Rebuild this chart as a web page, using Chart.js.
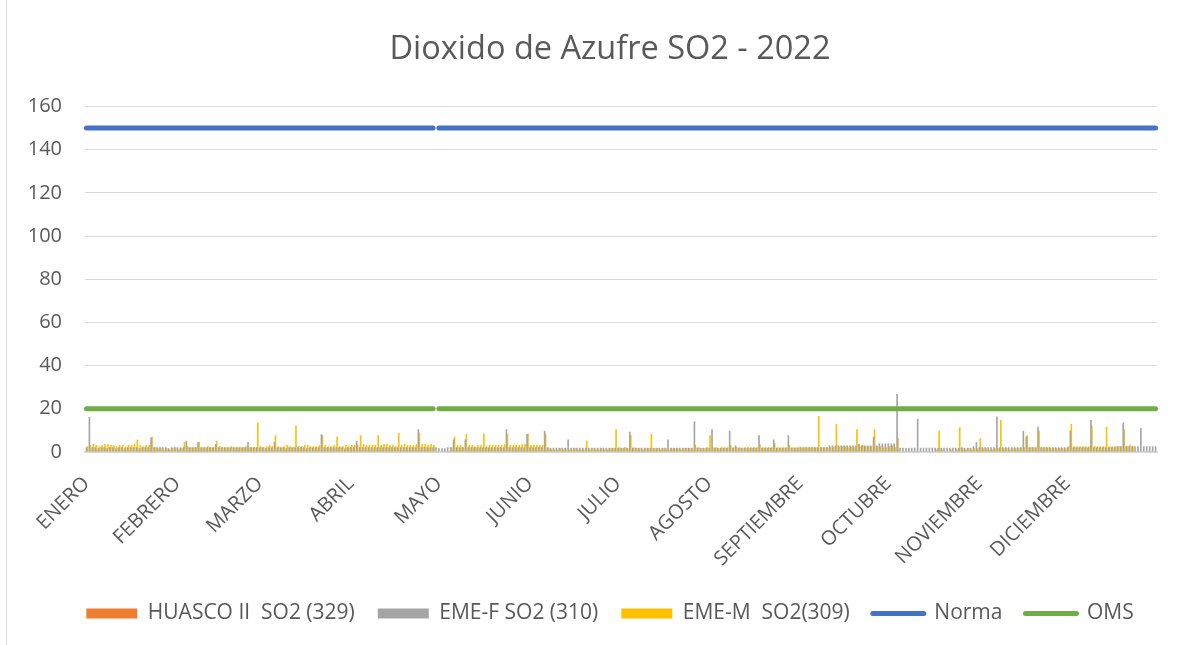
<!DOCTYPE html>
<html>
<head>
<meta charset="utf-8">
<script src="https://cdn.jsdelivr.net/npm/chart.js@4/dist/chart.umd.min.js"></script>
<style>
  html, body { margin: 0; background: #fff; }
  #marco { position: absolute; left: 6px; top: 0; width: 1px; height: 645px; background: #d9d9d9; }
  canvas { position: absolute; left: 0; top: 0; }
</style>
</head>
<body>
<canvas id="grafico" width="1198" height="645"></canvas>
<div id="marco"></div>
<script>
const meses = ['ENERO', 'FEBRERO', 'MARZO', 'ABRIL', 'MAYO', 'JUNIO', 'JULIO', 'AGOSTO', 'SEPTIEMBRE', 'OCTUBRE', 'NOVIEMBRE', 'DICIEMBRE'];
const diasPorMes = [31, 28, 31, 30, 31, 30, 31, 31, 30, 31, 30, 31];

// HUASCO II no aparece en el grafico (sin barras visibles)
const huasco = [];

// EME-F SO2 (310), un valor por dia
const emeF = [
  2, 16, 2, 2, 1.5, 2, 2, 1.5, 2, 2, 1.5, 2, 2, 1.5, 2, 2, 2, 2, 1.5, 2, 2, 2, 6.5, 2, 2, 2, 2, 2, 1.5, 2, 2, // ene
  2, 2, 2, 5, 2, 2, 2, 4.4, 2, 2, 2, 2, 2, 3.5, 2, 2, 2, 2, 2, 2, 2, 2, 2, 2, 4.4, 2, 2, 2, // feb
  2, 2, 1.5, 2, 2, 4.4, 2, 2, 2, 1.5, 2, 2, 2, 2, 2, 2, 1.5, 2, 2, 2, 2, 8, 2, 2, 2, 2, 2, 2, 2, 1.5, 2, // mar
  2, 2, 5, 2, 2, 2, 2, 2, 2, 2, 2, 2, 2, 2, 2, 2, 2, 2, 2, 2, 2, 2, 2, 10.3, 2, 2, 2, 2, 2, 2, // abr
  1.5, 1.5, 1.5, 2, 2, 5.6, 2, 2, 2, 5.6, 2, 2, 2, 2, 2, 2, 2, 2, 2, 2, 2, 2, 2, 10.3, 2, 2, 2, 2, 2, 2, 8.1, // may
  2, 2, 2, 2, 2, 9.6, 2, 1.8, 1.8, 1.8, 1.8, 1.8, 1.8, 5.6, 1.8, 1.8, 1.8, 1.8, 1.8, 1.8, 1.8, 1.8, 1.8, 1.8, 1.8, 1.8, 1.8, 1.8, 1.8, 1.8, // jun
  1.8, 1.8, 1.8, 1.8, 9.2, 1.8, 1.8, 1.8, 1.8, 1.8, 1.8, 1.8, 1.8, 1.8, 1.8, 1.8, 1.8, 5.6, 1.8, 1.8, 1.8, 1.8, 1.8, 1.8, 1.8, 1.8, 14, 1.8, 1.8, 1.8, 1.8, // jul
  1.8, 10.3, 1.8, 1.8, 1.8, 1.8, 1.8, 9.6, 1.8, 2.8, 1.8, 1.8, 1.8, 1.8, 1.8, 1.8, 1.8, 7.5, 1.8, 1.8, 1.8, 1.8, 5.6, 1.8, 1.8, 1.8, 1.8, 7.5, 1.8, 1.8, 1.8, // ago
  2, 2, 2, 2, 2, 2, 2, 2, 2, 2, 2.8, 2.8, 2.8, 2.8, 2.8, 2.8, 2.8, 2.8, 2.8, 2.8, 3.5, 2.8, 2.8, 2.8, 2.8, 6.8, 2.8, 3.7, 3.7, 3.7, // sep
  3.7, 3.7, 3.7, 26.6, 1.8, 1.8, 1.8, 1.8, 1.8, 1.8, 15.2, 1.8, 1.8, 1.8, 1.8, 1.8, 1.8, 1.8, 1.8, 1.8, 1.8, 1.8, 1.8, 1.8, 1.8, 2, 1.8, 1.8, 1.8, 2.5, 4.4, // oct
  2, 2, 2, 2, 2, 2, 16.2, 2, 2, 2, 2, 2, 2, 2, 2, 9.6, 7, 2, 2, 2, 11.5, 2, 2, 2, 2, 2, 2, 2, 2, 2, // nov
  2, 9.6, 2, 2, 2, 2, 2, 2, 14.6, 2, 2, 2, 2, 2, 2, 2, 2, 2.5, 2.5, 13.4, 2.5, 2.5, 2.5, 2.5, 2.5, 10.9, 2.5, 2.5, 2.5, 2.5, 2.5 // dic
];

// EME-M SO2(309), un valor por dia (null = sin dato)
const emeM = [
  2.5, 3, 3.5, 3, 2.5, 3, 3.5, 3.5, 3, 3, 2.5, 3, 3, 2.5, 3, 3, 3.5, 5.6, 3, 2.5, 3, 3, 6.8, 2, 1.5, 1.5, 1, 1.5, 1, 1.5, 2, // ene
  1, 1.5, 4.4, 2.5, 2, 2, 2, 4.4, 2, 2, 2.5, 2, 2, 5, 2.5, 2, 2, 2, 2.5, 2, 2, 2, 2, 2.5, 2, 2, 2, 13.4, // feb
  2.5, 2, 2.5, 3, 2.5, 7.5, 2.5, 2, 2.5, 3, 2.5, 2, 12.1, 2.5, 2.5, 3, 3, 2.5, 2.5, 2.5, 3, 7.5, 3, 2.5, 2.5, 3, 6.8, 2.5, 2.5, 3, 2.5, // mar
  3, 3, 3, 7.5, 3.5, 3, 3, 3, 3, 7.5, 3, 3.5, 3.5, 3, 3, 2.5, 8.6, 3, 3.5, 3, 3, 3, 3.5, 8.7, 3.5, 3.5, 3, 3.5, 3, null, // abr
  null, null, null, null, 2, 6.8, 3, 3, 2, 8.1, 3, 3, 2.5, 3, 3, 8.4, 2.5, 3, 3, 3, 3, 3, 3.5, 8.1, 3, 3, 3, 3, 3.5, 3.5, 8.4, // may
  3, 3, 3, 3, 3, 8.1, 1.5, 1, 1, 1, 1.5, 1, 1, 1, 1, 1.5, 1, 1, 1, 5, 1, 1.5, 1, 1, 1.5, 1, 1, 1.5, 1.5, 10.3, // jun
  2, 1.5, 2, 1.5, 7.5, 2, 1.5, 1.5, 1, 1.5, 1.5, 8.1, 1.5, 1.5, 1, 1.5, 1.5, 1, 1.5, 1.5, 1.5, 1, 1.5, 1.5, 1.5, 1.5, 3.1, 2, 1.5, 1.5, 2, // jul
  7.5, 2, 2, 1.5, 2, 2, 2, 3.1, 2, 2, 2, 1.5, 2, 2, 2, 2, 2, 3.1, 2, 2, 2, 2, 4, 2, 2, 2, 2, 3.1, 2, 2, 2, // ago
  2, 2, 2, 2, 2, 2, 16.5, 2, 2, 2, 2, 2, 12.8, 2.5, 2.5, 2.5, 2, 2.5, 2, 10.3, 2.5, 3, 2.5, 2.5, 2.5, 10.3, 2.5, 2.5, 2, 2, // sep
  2.5, 2.8, 2, 6.2, null, null, null, null, null, null, null, null, null, null, null, null, 1, 9.6, 1, null, null, 1, null, 1, 11.2, 1.5, 1, 1.5, 1, 1.5, 1.5, // oct
  6.2, 1.5, 1.5, 1, 1, 1.5, 1.5, 14.6, 1.5, 1.5, 1, 1.5, 1.5, 1.5, 2, 2, 7.5, 2, 2, 2, 9.6, 2, 2, 2, 1.5, 1.5, 1.5, 1.5, 1.5, 1.5, // nov
  2.5, 12.8, 2.5, 2.5, 2.5, 2.5, 2.5, 2.5, 12.1, 2.5, 2.5, 2.5, 2.5, 11.5, 2.5, 2.5, 2.5, 2.5, 2.5, 10.3, 2.5, 3, 2.5, null, null, null, null, null, null, null, null // dic
];

// limites (ug/m3) y el dia sin dato en las series de referencia
const normaValor = 150;
const omsValor = 20;
const diaSinReferencia = 119;

// etiquetas: nombre del mes en el primer dia, vacio en el resto
const etiquetas = [];
meses.forEach((mes, i) => {
  for (let d = 0; d < diasPorMes[i]; d++) etiquetas.push(d === 0 ? mes : '');
});
const norma = etiquetas.map((_, i) => i === diaSinReferencia ? null : normaValor);
const oms = etiquetas.map((_, i) => i === diaSinReferencia ? null : omsValor);

const fuente = "'Open Sans', sans-serif";
const gris = '#595959';

new Chart(document.getElementById('grafico'), {
  type: 'bar',
  data: {
    labels: etiquetas,
    datasets: [
      { label: 'HUASCO II  SO2 (329)', data: huasco, backgroundColor: '#ED7D31', order: 1, barPercentage: 1, categoryPercentage: 1 },
      { label: 'EME-F SO2 (310)', data: emeF, backgroundColor: '#A5A5A5', order: 1, barPercentage: 1, categoryPercentage: 1 },
      { label: 'EME-M  SO2(309)', data: emeM, backgroundColor: '#FFC000', order: 1, barPercentage: 1, categoryPercentage: 1 },
      { type: 'line', label: 'Norma', data: norma, borderColor: '#4472C4', backgroundColor: '#4472C4',
        borderWidth: 5, borderCapStyle: 'round', pointRadius: 0, order: 0 },
      { type: 'line', label: 'OMS', data: oms, borderColor: '#70AD47', backgroundColor: '#70AD47',
        borderWidth: 5, borderCapStyle: 'round', pointRadius: 0, order: 0 }
    ]
  },
  options: {
    responsive: false,
    animation: false,
    layout: { padding: { left: 22, right: 0, top: 0, bottom: 11 } },
    plugins: {
      title: {
        display: true,
        text: 'Dioxido de Azufre SO2 - 2022',
        color: gris,
        font: { family: fuente, size: 32.5, weight: 'normal' },
        padding: { top: 30.5, bottom: 37 }
      },
      legend: {
        position: 'bottom',
        labels: {
          color: gris,
          font: { family: fuente, size: 21 },
          usePointStyle: true,
          pointStyleWidth: 51,
          boxHeight: 10,
          padding: 23,
          sort: (a, b) => a.datasetIndex - b.datasetIndex,
          generateLabels: chart => Chart.defaults.plugins.legend.labels.generateLabels(chart).map(item => {
            const ds = chart.data.datasets[item.datasetIndex];
            if (ds.type === 'line') {
              item.pointStyle = 'line';
              item.lineWidth = 5;
              item.lineCap = 'round';
              item.strokeStyle = ds.borderColor;
            } else {
              item.pointStyle = 'rect';
              item.lineWidth = 0;
            }
            return item;
          })
        }
      },
      tooltip: { enabled: false }
    },
    scales: {
      x: {
        grid: { display: false },
        border: { color: '#d9d9d9', width: 2 },
        ticks: {
          autoSkip: false,
          minRotation: 45,
          maxRotation: 45,
          color: gris,
          font: { family: fuente, size: 20 },
          padding: 12
        },
        afterFit: scale => { scale.height -= 3; }
      },
      y: {
        min: 0,
        max: 160,
        grid: { color: '#d9d9d9', drawTicks: false },
        border: { display: false },
        ticks: { stepSize: 20, color: gris, font: { family: fuente, size: 20 }, padding: 23 },
        afterFit: scale => { scale.width = 63; }
      },
      // eje vacio a la derecha, solo reserva el margen del grafico
      margen: {
        type: 'linear',
        position: 'right',
        grid: { display: false },
        border: { display: false },
        ticks: { display: false },
        afterFit: scale => { scale.width = 41; }
      }
    }
  }
});
</script>
</body>
</html>
